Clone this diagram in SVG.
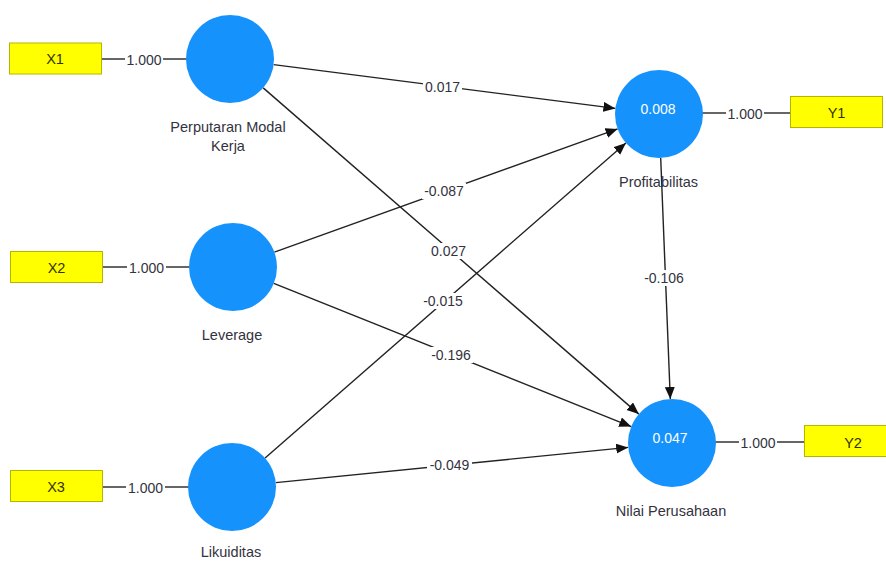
<svg xmlns="http://www.w3.org/2000/svg" width="886" height="561" viewBox="0 0 886 561">
<style>
  .lv { fill: #1592fc; }
  .ind { fill: #ffff00; stroke: #b5b500; stroke-width: 1; }
  .ln { stroke: #333333; stroke-width: 1.4; fill: none; }
  .arr { stroke: #222222; stroke-width: 1.4; fill: none; marker-end: url(#ah); }
  .bg { fill: #ffffff; }
  .num { font-family: "Liberation Sans", Arial, sans-serif; font-size: 14px; fill: #333340; text-anchor: middle; }
  .lbl { font-family: "Liberation Sans", Arial, sans-serif; font-size: 14.5px; fill: #333340; text-anchor: middle; }
  .in { font-family: "Liberation Sans", Arial, sans-serif; font-size: 14px; fill: #ffffff; text-anchor: middle; }
  .box { font-family: "Liberation Sans", Arial, sans-serif; font-size: 14.5px; fill: #333300; text-anchor: middle; }
</style>
<defs>
  <marker id="ah" markerUnits="userSpaceOnUse" markerWidth="13" markerHeight="11" refX="12" refY="5" orient="auto">
    <path d="M0,0 L12,5 L0,10 z" fill="#111111"/>
  </marker>
</defs>
<rect width="886" height="561" fill="#ffffff"/>

<g id="connectors">
  <!-- outer loadings -->
  <line class="ln" x1="101" y1="59" x2="187" y2="59"/>
  <rect class="bg" x="125" y="51" width="38" height="16"/>
  <text class="num" x="144" y="65">1.000</text>

  <line class="ln" x1="102" y1="267" x2="190" y2="267"/>
  <rect class="bg" x="127" y="259" width="39" height="16"/>
  <text class="num" x="146.5" y="273">1.000</text>

  <line class="ln" x1="102" y1="487" x2="189" y2="487"/>
  <rect class="bg" x="126" y="479" width="39" height="16"/>
  <text class="num" x="145.5" y="493">1.000</text>

  <line class="ln" x1="702" y1="113" x2="790" y2="113"/>
  <rect class="bg" x="726" y="105" width="38" height="16"/>
  <text class="num" x="745" y="119">1.000</text>

  <line class="ln" x1="715" y1="442" x2="804" y2="442"/>
  <rect class="bg" x="739" y="434" width="38" height="16"/>
  <text class="num" x="758" y="448">1.000</text>

  <!-- structural paths -->
  <line class="arr" x1="273.6" y1="64.6" x2="615.4" y2="108.4"/>
  <line class="arr" x1="274.4" y1="252.1" x2="617.6" y2="128.9"/>
  <line class="arr" x1="265.1" y1="458.0" x2="625.9" y2="143.0"/>
  <line class="arr" x1="263.2" y1="87.9" x2="638.8" y2="414.1"/>
  <line class="arr" x1="273.8" y1="283.4" x2="631.2" y2="426.6"/>
  <line class="arr" x1="275.8" y1="482.6" x2="628.2" y2="447.4"/>
  <line class="arr" x1="660.7" y1="158" x2="670.3" y2="399"/>

  <rect class="bg" x="423" y="78" width="39" height="16"/>
  <text class="num" x="442.5" y="92">0.017</text>
  <rect class="bg" x="422" y="183" width="44" height="16"/>
  <text class="num" x="444" y="196">-0.087</text>
  <rect class="bg" x="430" y="243" width="37" height="16"/>
  <text class="num" x="448.5" y="256">0.027</text>
  <rect class="bg" x="421" y="293" width="44" height="16"/>
  <text class="num" x="443" y="306">-0.015</text>
  <rect class="bg" x="429" y="347" width="44" height="16"/>
  <text class="num" x="451" y="360">-0.196</text>
  <rect class="bg" x="427" y="457" width="45" height="16"/>
  <text class="num" x="449.5" y="470">-0.049</text>
  <rect class="bg" x="642" y="270" width="44" height="16"/>
  <text class="num" x="664" y="283">-0.106</text>
</g>

<g id="X1">
  <rect class="ind" x="9.5" y="43" width="92" height="31"/>
  <text class="box" x="55" y="64">X1</text>
</g>
<g id="X2">
  <rect class="ind" x="10.5" y="251.5" width="92" height="31"/>
  <text class="box" x="56.5" y="272.5">X2</text>
</g>
<g id="X3">
  <rect class="ind" x="10.5" y="470.5" width="92" height="31"/>
  <text class="box" x="56" y="492">X3</text>
</g>
<g id="Y1">
  <rect class="ind" x="790.5" y="96.5" width="92" height="31"/>
  <text class="box" x="836.5" y="118">Y1</text>
</g>
<g id="Y2">
  <rect class="ind" x="804.5" y="425.5" width="92" height="31"/>
  <text class="box" x="853" y="447.5">Y2</text>
</g>

<g id="PerputaranModalKerja">
  <circle class="lv" cx="230" cy="59" r="44"/>
  <text class="lbl" x="228" y="132">Perputaran Modal</text>
  <text class="lbl" x="228" y="151">Kerja</text>
</g>
<g id="Leverage">
  <circle class="lv" cx="233" cy="267" r="44"/>
  <text class="lbl" x="232" y="340">Leverage</text>
</g>
<g id="Likuiditas">
  <circle class="lv" cx="232" cy="487" r="44"/>
  <text class="lbl" x="231" y="557">Likuiditas</text>
</g>
<g id="Profitabilitas">
  <circle class="lv" cx="659" cy="114" r="44"/>
  <text class="in" x="658" y="114">0.008</text>
  <text class="lbl" x="658.5" y="187">Profitabilitas</text>
</g>
<g id="NilaiPerusahaan">
  <circle class="lv" cx="672" cy="443" r="44"/>
  <text class="in" x="670" y="443">0.047</text>
  <text class="lbl" x="671" y="516">Nilai Perusahaan</text>
</g>
</svg>
